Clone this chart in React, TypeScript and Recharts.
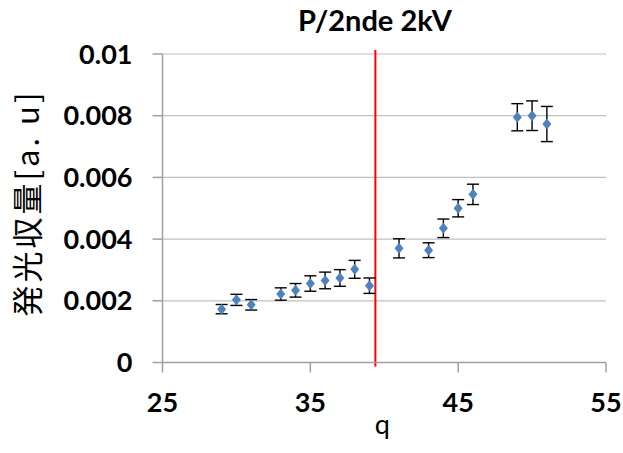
import React from "react";
import {
  ScatterChart,
  Scatter,
  XAxis,
  YAxis,
  CartesianGrid,
  ErrorBar,
  ReferenceLine,
  Label,
} from "recharts";

const qValues = [29, 30, 31, 33, 34, 35, 36, 37, 38, 39, 41, 43, 44, 45, 46, 49, 50, 51];
const yieldValues = [
  0.00173, 0.00203, 0.00187, 0.00222, 0.00234, 0.00256, 0.00266, 0.00274, 0.00302, 0.00249,
  0.0037, 0.00364, 0.00435, 0.005, 0.00545, 0.00795, 0.008, 0.00773,
];
const errValues = [
  0.00015, 0.00018, 0.00017, 0.0002, 0.00022, 0.00025, 0.00027, 0.00027, 0.00029, 0.00025,
  0.00031, 0.00024, 0.0003, 0.00028, 0.00033, 0.00044, 0.00048, 0.00057,
];
const xTicks = [25, 35, 45, 55];
const yTicks = [0, 0.002, 0.004, 0.006, 0.008, 0.01];
const cutQ = 39.4;
const cutLow = -0.00013;
const cutHigh = 0.01013;

const titleText = "P/2nde 2kV";
const xTitle = "q";
const yTitle = "発光収量[a. u]";

const data = qValues.map((q, i) => ({ q, y: yieldValues[i], err: errValues[i] }));

const tickFont = { fontFamily: "Lato", fontWeight: 700, fontSize: 27, fill: "#000" };

const Diamond = (p: any) => {
  const { cx, cy } = p;
  return (
    <path
      d={`M${cx},${cy - 5.5}L${cx + 4.5},${cy}L${cx},${cy + 5.5}L${cx - 4.5},${cy}Z`}
      fill="#4F81BD"
    />
  );
};

export default function App() {
  return (
    <div style={{ position: "absolute", left: 0, top: 0, width: 623, height: 453, background: "#fff" }}>
      <div
        style={{
          position: "absolute",
          left: 0,
          width: 750,
          top: 2,
          textAlign: "center",
          fontFamily: "Lato",
          fontWeight: 700,
          fontSize: 29,
          lineHeight: "36px",
          color: "#000",
        }}
      >
        {titleText}
      </div>
      <ScatterChart
        width={623}
        height={453}
        margin={{ top: 54, right: 17, bottom: 30.5, left: 62.5 }}
      >
        <CartesianGrid vertical={false} stroke="#C0C0C0" strokeWidth={1.2} />
        <XAxis
          type="number"
          dataKey="q"
          domain={[25, 55]}
          ticks={xTicks}
          height={60}
          tickSize={10}
          tickMargin={20}
          stroke="#A0A0A0"
          strokeWidth={1.5}
          tick={tickFont}
          allowDataOverflow
        >
          <Label
            content={(props: any) => {
              const vb = props.viewBox;
              return (
                <text
                  x={vb.x + vb.width / 2 - 2}
                  y={434}
                  textAnchor="middle"
                  fontFamily="Lato"
                  fontSize={27}
                  fill="#000"
                >
                  {xTitle}
                </text>
              );
            }}
          />
        </XAxis>
        <YAxis
          type="number"
          dataKey="y"
          domain={[0, 0.01]}
          ticks={yTicks}
          width={100}
          tickSize={10}
          tickMargin={20}
          stroke="#A0A0A0"
          strokeWidth={1.5}
          tick={tickFont}
          allowDataOverflow
        >
          <Label
            content={() => (
              <text
                transform="translate(39,203) rotate(-90)"
                textAnchor="middle"
                fontFamily="Noto Sans CJK JP"
                fontSize={31}
                letterSpacing={3}
                fill="#000"
              >
                {yTitle}
              </text>
            )}
          />
        </YAxis>
        <ReferenceLine
          segment={[
            { x: cutQ, y: cutLow },
            { x: cutQ, y: cutHigh },
          ]}
          stroke="#FF0000"
          strokeWidth={2}
          ifOverflow="visible"
        />
        <Scatter data={data} dataKey="y" shape={Diamond} isAnimationActive={false}>
          <ErrorBar dataKey="err" direction="y" width={6} stroke="#000" strokeWidth={1.4} />
        </Scatter>
      </ScatterChart>
    </div>
  );
}
